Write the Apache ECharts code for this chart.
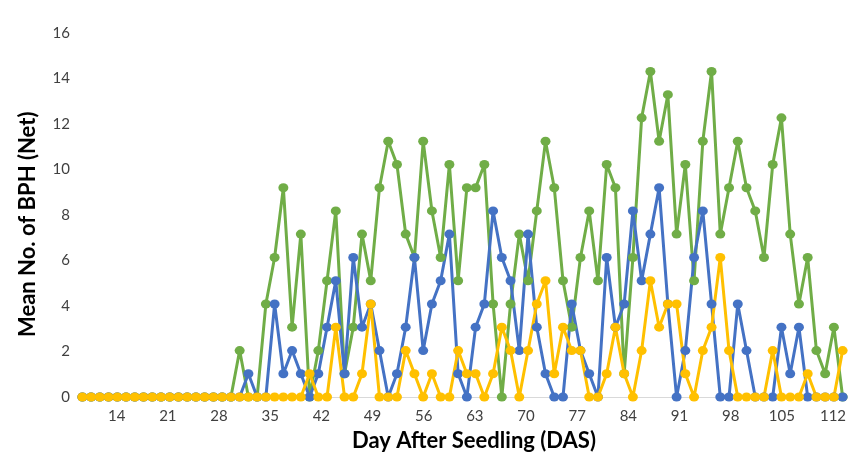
<!DOCTYPE html>
<html>
<head>
<meta charset="utf-8">
<script src="https://cdn.jsdelivr.net/npm/echarts@6/dist/echarts.min.js"></script>
<style>
html,body{margin:0;padding:0;background:#fff;}
#chart{width:854px;height:466px;}
</style>
</head>
<body>
<div id="chart"></div>
<script>
// Sample order (one category per plotted observation)
const samples = ["1","2","3","4","5","6","7","8","9","10","11","12","13","14","15","16","17","18","19","20",
"21","22","23","24","25","26","27","28","29","30","31","32","33","34","35","36","37","38","39","40",
"41","42","43","44","45","46","47","48","49","50","51","52","53","54","55","56","57","58","59","60",
"61","62","63","64","65","66","67","68","69","70","71","72","73","74","75","76","77","78","79","80",
"81","82","83","84","85","86","87","88"];

// Day tick labels on the x axis
const dayTicks = [14,21,28,35,42,49,56,63,70,77,84,91,98,105,112];

// Mean number of BPH (Net)
const greenValues = [
0,0,0,0,0,0,0,0,0,0,
0,0,0,0,0,0,0,0,2.04,0,
0,4.09,6.13,9.2,3.07,7.16,0,2.04,5.11,8.18,
1.02,3.07,7.16,5.11,9.2,11.24,10.22,7.16,6.13,11.24,
8.18,6.13,10.22,5.11,9.2,9.2,10.22,4.09,0,4.09,
7.16,5.11,8.18,11.24,9.2,5.11,3.07,6.13,8.18,5.11,
10.22,9.2,1.02,6.13,12.27,14.31,11.24,13.29,7.16,10.22,
5.11,11.24,14.31,7.16,9.2,11.24,9.2,8.18,6.13,10.22,
12.27,7.16,4.09,6.13,2.04,1.02,3.07,0];

const blueValues = [
0,0,0,0,0,0,0,0,0,0,
0,0,0,0,0,0,0,0,0,1.02,
0,0,4.09,1.02,2.04,1.02,0,1.02,3.07,5.11,
1.02,6.13,3.07,4.09,2.04,0,1.02,3.07,6.13,2.04,
4.09,5.11,7.16,1.02,0,3.07,4.09,8.18,6.13,5.11,
2.04,7.16,3.07,1.02,0,0,4.09,2.04,1.02,0,
6.13,3.07,4.09,8.18,5.11,7.16,9.2,4.09,0,2.04,
6.13,8.18,4.09,0,0,4.09,2.04,0,0,0,
3.07,1.02,3.07,0,0,0,0,0];

const yellowValues = [
0,0,0,0,0,0,0,0,0,0,
0,0,0,0,0,0,0,0,0,0,
0,0,0,0,0,0,1.02,0,0,3.07,
0,0,1.02,4.09,0,0,0,2.04,1.02,0,
1.02,0,0,2.04,1.02,1.02,0,1.02,3.07,2.04,
0,2.04,4.09,5.11,1.02,3.07,2.04,2.04,0,0,
1.02,3.07,1.02,0,2.04,5.11,3.07,4.09,4.09,1.02,
0,2.04,3.07,6.13,2.04,0,0,0,0,2.04,
0,0,0,1.02,0,0,0,2.04];

const FONT = 'Lato, "Open Sans", sans-serif';
const chart = echarts.init(document.getElementById('chart'), null, {renderer:'canvas'});

function lineSeries(name, data, color){
  return {
    name: name, type: 'line', xAxisIndex: 0, yAxisIndex: 0,
    data: data, symbol: 'circle', symbolSize: [10, 9],
    showSymbol: true, showAllSymbol: true,
    lineStyle: {color: color, width: 3},
    itemStyle: {color: color},
    animation: false, z: 2
  };
}

chart.setOption({
  backgroundColor: '#ffffff',
  animation: false,
  grid: [
    {left: 78, right: 7, top: 33, bottom: 69},
    {left: 65.5, right: 21, top: 33, bottom: 69}
  ],
  xAxis: [
    {type: 'category', gridIndex: 0, data: samples, boundaryGap: true,
     axisLine: {lineStyle: {color: '#D9D9D9', width: 1}},
     axisTick: {show: false}, axisLabel: {show: false}, splitLine: {show: false}},
    {type: 'value', gridIndex: 1, min: 7, max: 112, interval: 7,
     axisLine: {show: false}, axisTick: {show: false}, splitLine: {show: false},
     axisLabel: {margin: 12, color: '#404040', fontSize: 15, fontFamily: FONT,
       formatter: function(v){ return dayTicks.indexOf(v) >= 0 ? String(v) : ''; }}}
  ],
  yAxis: [
    {type: 'value', gridIndex: 0, min: 0, max: 16, interval: 2,
     axisLine: {show: false}, axisTick: {show: false}, splitLine: {show: false},
     axisLabel: {margin: 8, color: '#404040', fontSize: 15, fontFamily: FONT}},
    {type: 'value', gridIndex: 1, show: false, min: 0, max: 16}
  ],
  graphic: [
    {type: 'text', left: 352, top: 430,
     style: {text: 'Day After Seedling (DAS)', font: 'bold 22px ' + FONT, fill: '#000000'}},
    {type: 'text', rotation: Math.PI / 2, x: 17, y: 337,
     style: {text: 'Mean No. of BPH (Net)', font: 'bold 22px ' + FONT, fill: '#000000'}}
  ],
  series: [
    lineSeries('Green', greenValues, '#70AD47'),
    lineSeries('Blue', blueValues, '#4472C4'),
    lineSeries('Yellow', yellowValues, '#FFC000')
  ]
});
</script>
</body>
</html>
